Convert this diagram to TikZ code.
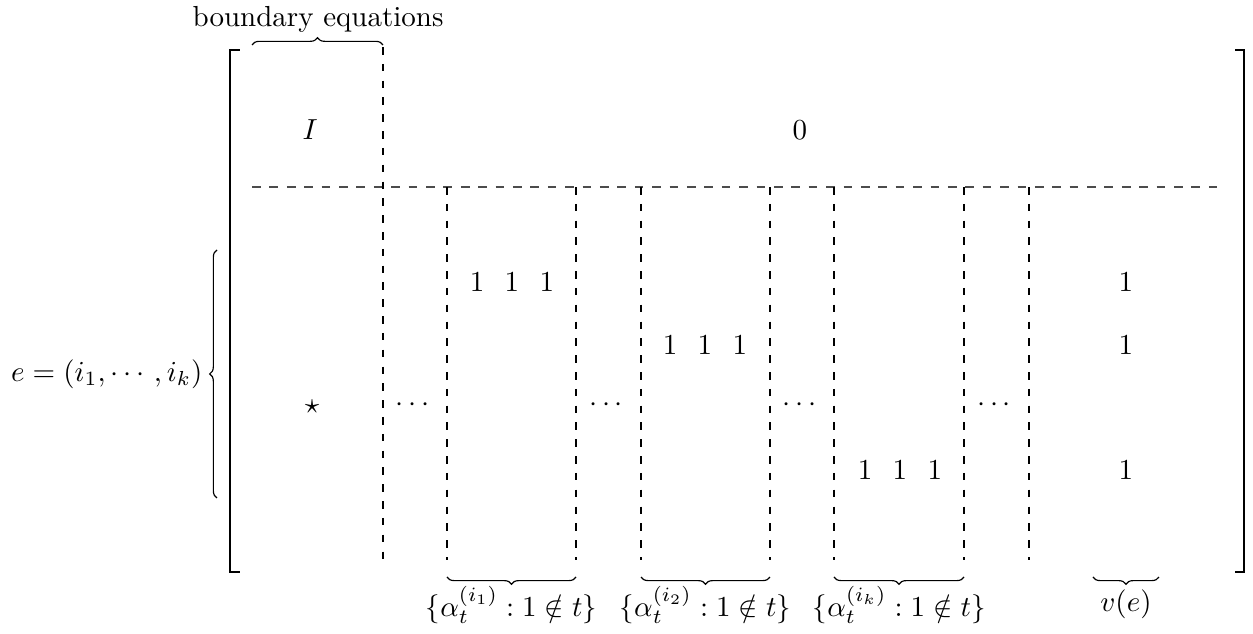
\documentclass[tikz,border=0pt]{standalone}
\usepackage{amsmath,amssymb}
\usetikzlibrary{decorations.pathreplacing, calc, positioning}
\tikzset{
  sepline/.style={dashed, line width=0.4pt, draw=black!70},
  vsepline/.style={dash pattern=on 2.6pt off 3.2pt, line width=0.4pt},
  bracketline/.style={line width=0.9pt, line cap=rect},
  bracegrp/.style={decorate, decoration={brace, amplitude=2.5pt}, line width=0.4pt},
  bracegrpdown/.style={decorate, decoration={brace, amplitude=2.5pt, mirror}, line width=0.4pt},
  entry/.style={inner sep=1pt},
  groupone/.style={inner sep=1pt, font=\normalsize},
  bracelabel/.style={inner sep=0pt},
}

\begin{document}
\begin{tikzpicture}
  \useasboundingbox (0,0) rectangle (15.188,-7.685);

  % Brackets
  \draw[bracketline] (2.897,-0.606) -- (2.788,-0.606) -- (2.788,-6.933) -- (2.897,-6.933);
  \draw[bracketline] (14.982,-0.606) -- (15.079,-0.606) -- (15.079,-6.933) -- (14.982,-6.933);

  % Block separators
  \draw[sepline] (3.055,-2.267) -- (14.752,-2.267);
  \draw[vsepline] (4.642,-0.57) -- (4.642,-6.79);
  \draw[vsepline] (5.418,-2.267) -- (5.418,-6.79);
  \draw[vsepline] (6.982,-2.267) -- (6.982,-6.79);
  \draw[vsepline] (7.770,-2.267) -- (7.770,-6.79);
  \draw[vsepline] (9.333,-2.267) -- (9.333,-6.79);
  \draw[vsepline] (10.109,-2.267) -- (10.109,-6.79);
  \draw[vsepline] (11.685,-2.267) -- (11.685,-6.79);
  \draw[vsepline] (12.473,-2.267) -- (12.473,-6.79);

  % Upper blocks
  \node[entry] (ident) at (3.758,-1.576) {$I$};
  \node[entry] (zero)  at (9.697,-1.576) {$0$};

  % Lower blocks
  \node[entry] (star) at (3.782,-4.933) {$\star$};
  \node[entry] (dotsa) at (5.03,-4.909) {$\cdots$};
  \node[entry] (dotsb) at (7.376,-4.909) {$\cdots$};
  \node[entry] (dotsc) at (9.721,-4.909) {$\cdots$};
  \node[entry] (dotsd) at (12.079,-4.909) {$\cdots$};

  \node[groupone] (onesa) at (6.206,-3.418) {$1\hspace{7pt}1\hspace{7pt}1$};
  \node[groupone] (onesb) at (8.545,-4.182) {$1\hspace{7pt}1\hspace{7pt}1$};
  \node[groupone] (onesc) at (10.909,-5.697) {$1\hspace{7pt}1\hspace{7pt}1$};

  \node[entry] (va) at (13.648,-3.418) {$1$};
  \node[entry] (vb) at (13.648,-4.182) {$1$};
  \node[entry] (vc) at (13.648,-5.697) {$1$};

  % Braces and labels
  \draw[bracegrp] (3.055,-0.545) -- (4.642,-0.545);
  \node (bdry) at (3.855,-0.23) {boundary equations};

  \draw[bracegrp] (2.63,-6.036) -- (2.63,-3.03);
  \node[anchor=east, inner sep=0pt] (edge) at (2.46,-4.533) {$e=(i_1,\cdots,i_k)$};

  \draw[bracegrpdown] (5.418,-6.994) -- (6.982,-6.994);
  \draw[bracegrpdown] (7.770,-6.994) -- (9.333,-6.994);
  \draw[bracegrpdown] (10.109,-6.994) -- (11.685,-6.994);
  \draw[bracegrpdown] (13.248,-6.994) -- (14.048,-6.994);

  \node[bracelabel] (alpha1) at (6.2,-7.33) {$\{\alpha_t^{(i_1)}:1\notin t\}$};
  \node[bracelabel] (alpha2) at (8.55,-7.33) {$\{\alpha_t^{(i_2)}:1\notin t\}$};
  \node[bracelabel] (alphak) at (10.9,-7.33) {$\{\alpha_t^{(i_k)}:1\notin t\}$};
  \node[bracelabel] (vedge)  at (13.648,-7.33) {$v(e)$};
\end{tikzpicture}
\end{document}
